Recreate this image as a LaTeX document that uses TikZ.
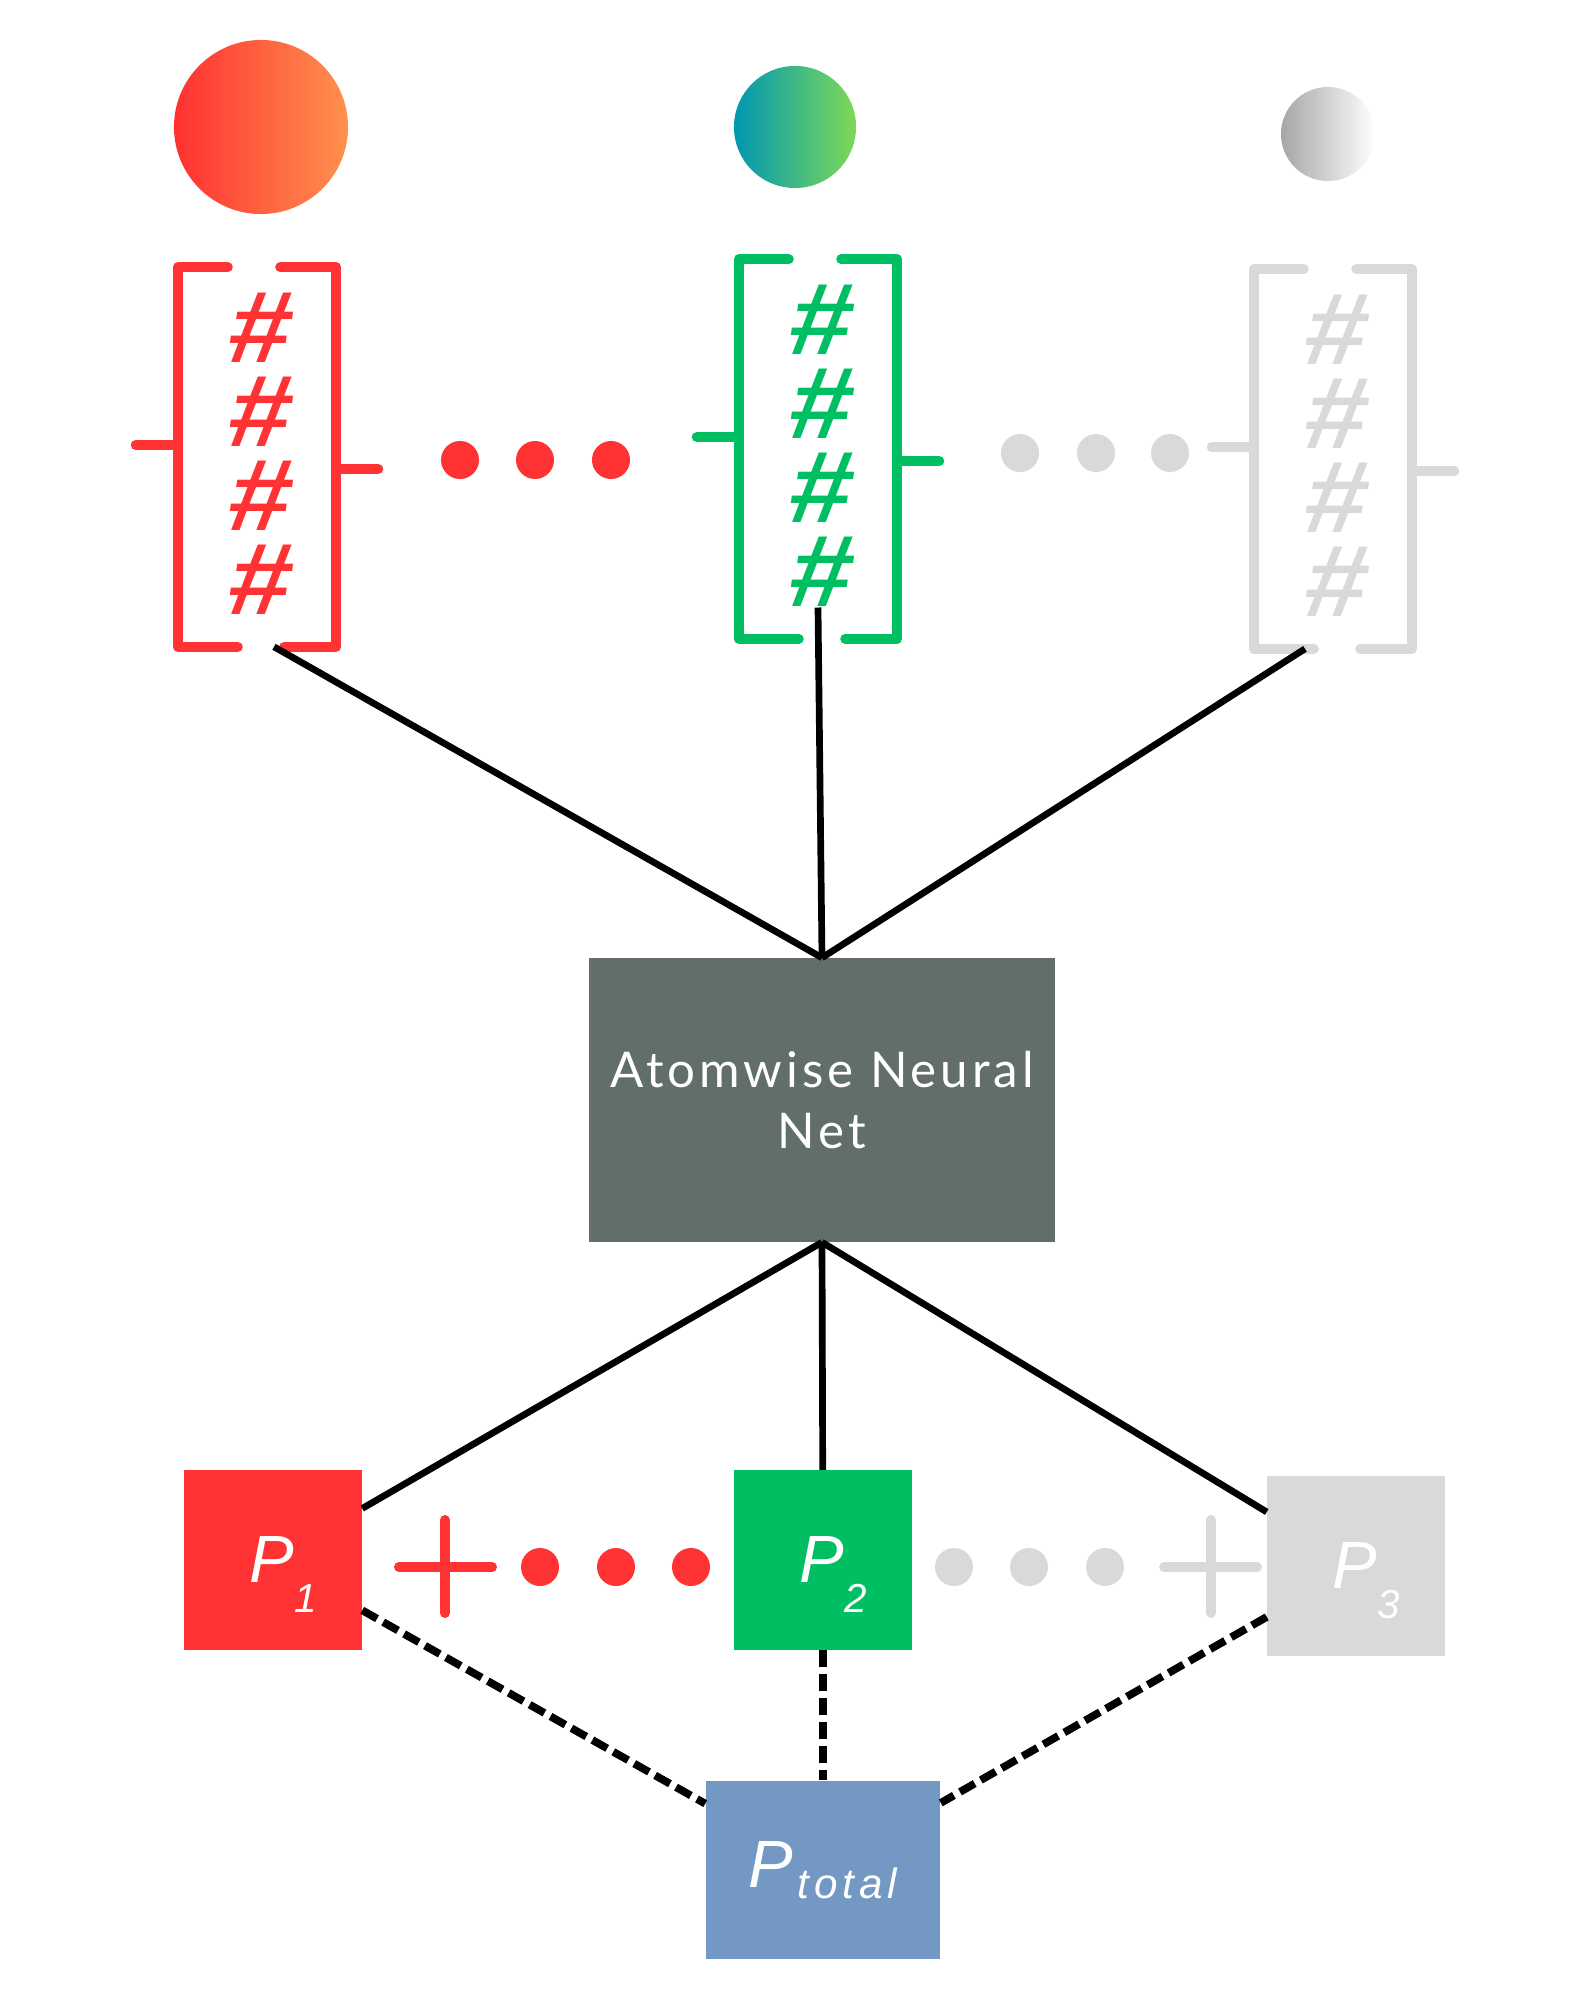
\documentclass[tikz,border=0pt]{standalone}
\usepackage{fontspec}
\usepackage{tikz}
\setmainfont{Liberation Sans}
\newfontfamily\netfont[LetterSpace=8]{Lato}
\newfontfamily\totfont[LetterSpace=12]{Liberation Sans}
\newfontfamily\hashfont[FakeSlant=0.15, FakeStretch=1.1]{Liberation Sans Bold}
\definecolor{myred}{HTML}{FF3333}
\definecolor{mygreen}{HTML}{00BF63}
\definecolor{mygray}{HTML}{D9D9D9}
\definecolor{myblue}{HTML}{7398C4}
\definecolor{netgray}{HTML}{626E69}
\definecolor{redA}{HTML}{FF3131}
\definecolor{redB}{HTML}{FF914D}
\definecolor{greenA}{HTML}{0097B2}
\definecolor{greenB}{HTML}{7ED957}
\definecolor{grayA}{HTML}{A6A6A6}
\definecolor{grayB}{HTML}{FFFFFF}
\tikzset{
    brk/.style={line width=0.1cm, line cap=round, line join=round},
    vecbox/.style={minimum width=1.57cm, minimum height=3.78cm, inner sep=0pt},
    hash/.style={font=\hashfont\fontsize{29}{23.9}\selectfont, inner sep=0pt, align=center},
    pbox/.style={minimum width=1.77cm, minimum height=1.79cm, inner sep=0pt, text=white, font=\fontsize{19}{20}\selectfont\itshape},
    link/.style={line width=1.9pt},
    dlink/.style={line width=2.2pt, dash pattern=on 0.17cm off 0.07cm},
}
\newcommand{\plabel}[1]{\raisebox{0pt}[0.6cm][0.16cm]{\hspace*{0.2cm}P\raisebox{-0.3cm}{\fontsize{11.5}{12}\selectfont #1}}}

\begin{document}
\begin{tikzpicture}[x=0.01cm, y=-0.01cm]
    \useasboundingbox (0,0) rectangle (1591,2000);
    \node[circle, minimum size=1.74cm, left color=redA, right color=redB] (atom1) at (261,127) {};
    \node[circle, minimum size=1.22cm, left color=greenA, right color=greenB] (atom2) at (795,127) {};
    \node[circle, minimum size=0.94cm, left color=grayA, right color=grayB] (atom3) at (1328,134) {};
    \foreach \i/\x/\y/\col in {1/257/457/myred, 2/818/449/mygreen, 3/1333/459/mygray} {
        \node[vecbox] (vec\i) at (\x,\y) {};
        \draw[brk, \col] ([xshift=0.5cm]vec\i.north west) -- (vec\i.north west) -- (vec\i.south west) -- ([xshift=0.6cm]vec\i.south west);
        \draw[brk, \col] ([xshift=-0.56cm]vec\i.north east) -- (vec\i.north east) -- (vec\i.south east) -- ([xshift=-0.52cm]vec\i.south east);
        \draw[brk, \col] ([yshift=0.12cm]vec\i.west) -- ++(-0.42cm,0);
        \draw[brk, \col] ([yshift=-0.12cm]vec\i.east) -- ++(0.42cm,0);
        \node[hash, text=\col] (hash\i) at ([yshift=0.03cm]vec\i.center) {\#\\\#\\\#\\\#};
    }
    \foreach \x in {460,535,611} \fill[myred] (\x,460) circle (0.19cm);
    \foreach \x in {1020,1096,1170} \fill[mygray] (\x,453) circle (0.19cm);
    \node[fill=netgray, minimum width=4.66cm, minimum height=2.83cm, text=white, align=center,
        font=\netfont\fontsize{14}{17.4}\selectfont] (nn) at (822,1100) {Atomwise Neural\\Net};
    \node[pbox, fill=myred] (p1) at (273,1560) {\plabel{1}};
    \node[pbox, fill=mygreen] (p2) at (823,1560) {\plabel{2}};
    \node[pbox, fill=mygray] (p3) at (1356,1566) {\plabel{3}};
    \node[pbox, fill=myblue, minimum width=2.34cm, minimum height=1.78cm] (ptot) at (823,1870)
        {P\hspace{0.04cm}\raisebox{-0.11cm}{\totfont\fontsize{12}{12}\selectfont total}};
    \draw[brk, myred] (445,1520) -- (445,1613) (399,1567) -- (492,1567);
    \draw[brk, mygray] (1211,1520) -- (1211,1613) (1164,1567) -- (1257,1567);
    \foreach \x in {540,616,691} \fill[myred] (\x,1567) circle (0.19cm);
    \foreach \x in {954,1029,1105} \fill[mygray] (\x,1567) circle (0.19cm);
    \draw[link] ([xshift=0.17cm]vec1.south) -- (nn.north);
    \draw[link] (hash2.south) -- (nn.north);
    \draw[link] ([xshift=-0.28cm]vec3.south) -- (nn.north);
    \draw[link] (nn.south) -- (p1);
    \draw[link] (nn.south) -- (p2);
    \draw[link] (nn.south) -- (p3);
    \draw[dlink] (p1) -- (ptot);
    \draw[dlink] (p2) -- (ptot);
    \draw[dlink] (p3) -- (ptot);
\end{tikzpicture}
\end{document}
